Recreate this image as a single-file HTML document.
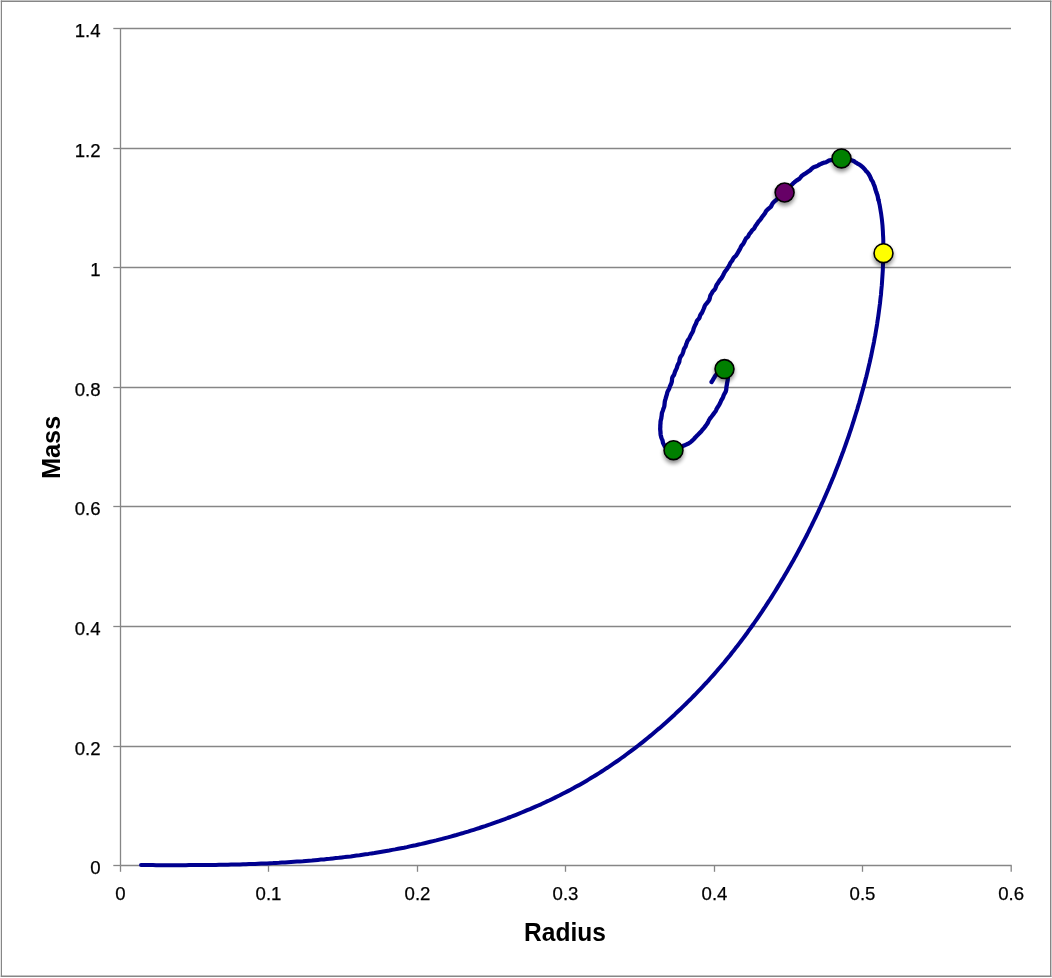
<!DOCTYPE html>
<html lang="en">
<head>
<meta charset="utf-8">
<title>Mass vs Radius</title>
<style>
html,body{margin:0;padding:0;background:#fff;}
body{width:1052px;height:978px;overflow:hidden;font-family:"Liberation Sans",sans-serif;}
svg{display:block;}
.tick{font-family:"Liberation Sans",sans-serif;font-size:18.6px;fill:#000;stroke:#000;stroke-width:0.25px;}
.title{font-family:"Liberation Sans",sans-serif;font-size:26.2px;font-weight:bold;fill:#000;}
</style>
</head>
<body>
<svg width="1052" height="978" viewBox="0 0 1052 978">
<defs>
<filter id="sh" x="-50%" y="-50%" width="200%" height="200%">
<feGaussianBlur in="SourceAlpha" stdDeviation="2.3"/>
<feOffset dx="0.3" dy="2.5" result="b"/>
<feComponentTransfer><feFuncA type="linear" slope="0.46"/></feComponentTransfer>
<feMerge><feMergeNode/><feMergeNode in="SourceGraphic"/></feMerge>
</filter>
</defs>
<rect x="0" y="0" width="1052" height="978" fill="#fff"/>
<g stroke="#868686" fill="none">
<line x1="1.4" y1="0.6" x2="1.4" y2="977" stroke-width="1.2"/>
<line x1="0.8" y1="1.3" x2="1051.4" y2="1.3" stroke-width="1.4"/>
<line x1="1050.7" y1="0.6" x2="1050.7" y2="977" stroke-width="1.4"/>
<line x1="0.8" y1="976.3" x2="1051.4" y2="976.3" stroke-width="1.4"/>
</g>
<g stroke="#868686" stroke-width="1.3" fill="none">
<line x1="120.5" y1="746.5" x2="1011" y2="746.5"/>
<line x1="120.5" y1="626.5" x2="1011" y2="626.5"/>
<line x1="120.5" y1="506.5" x2="1011" y2="506.5"/>
<line x1="120.5" y1="387.5" x2="1011" y2="387.5"/>
<line x1="120.5" y1="267.5" x2="1011" y2="267.5"/>
<line x1="120.5" y1="148.5" x2="1011" y2="148.5"/>
<line x1="120.5" y1="28.5" x2="1011" y2="28.5"/>
<line x1="120.5" y1="28" x2="120.5" y2="865.5"/>
<line x1="120.5" y1="865.5" x2="1011.7" y2="865.5"/>
<line x1="113.3" y1="865.5" x2="120.5" y2="865.5"/>
<line x1="113.3" y1="746.5" x2="120.5" y2="746.5"/>
<line x1="113.3" y1="626.5" x2="120.5" y2="626.5"/>
<line x1="113.3" y1="506.5" x2="120.5" y2="506.5"/>
<line x1="113.3" y1="387.5" x2="120.5" y2="387.5"/>
<line x1="113.3" y1="267.5" x2="120.5" y2="267.5"/>
<line x1="113.3" y1="148.5" x2="120.5" y2="148.5"/>
<line x1="113.3" y1="28.5" x2="120.5" y2="28.5"/>
<line x1="120.5" y1="865.5" x2="120.5" y2="871.8"/>
<line x1="268.5" y1="865.5" x2="268.5" y2="871.8"/>
<line x1="417.5" y1="865.5" x2="417.5" y2="871.8"/>
<line x1="565.5" y1="865.5" x2="565.5" y2="871.8"/>
<line x1="714.5" y1="865.5" x2="714.5" y2="871.8"/>
<line x1="862.5" y1="865.5" x2="862.5" y2="871.8"/>
<line x1="1011.2" y1="865.5" x2="1011.2" y2="871.8"/>
</g>
<g class="tick" text-anchor="end">
<text x="100.5" y="874.3">0</text>
<text x="100.5" y="755.3">0.2</text>
<text x="100.5" y="635.3">0.4</text>
<text x="100.5" y="515.3">0.6</text>
<text x="100.5" y="396.3">0.8</text>
<text x="100.5" y="276.3">1</text>
<text x="100.5" y="157.3">1.2</text>
<text x="100.5" y="37.3">1.4</text>
</g>
<g class="tick" text-anchor="middle">
<text x="120.5" y="900">0</text>
<text x="268.5" y="900">0.1</text>
<text x="417.5" y="900">0.2</text>
<text x="565.5" y="900">0.3</text>
<text x="714.5" y="900">0.4</text>
<text x="862.5" y="900">0.5</text>
<text x="1011.2" y="900">0.6</text>
</g>
<text class="title" text-anchor="middle" transform="translate(565 940.8) scale(0.9375 1)">Radius</text>
<text class="title" text-anchor="middle" transform="translate(59.9 447.4) rotate(-90) scale(0.968 1)">Mass</text>
<g fill="none" stroke="#00008f" stroke-linecap="round" stroke-linejoin="round">
<path d="M141.0 865.1 L144.0 865.1 L147.0 865.1 L150.0 865.1 L153.0 865.1 L156.0 865.2 L159.0 865.2 L162.0 865.2 L165.0 865.2 L168.0 865.2 L171.0 865.2 L174.0 865.2 L177.0 865.2 L180.0 865.2 L183.0 865.2 L186.0 865.2 L189.0 865.1 L192.0 865.1 L195.0 865.1 L198.0 865.1 L201.0 865.1 L204.0 865.0 L207.0 865.0 L210.0 865.0 L213.0 864.9 L216.0 864.9 L219.0 864.8 L222.0 864.8 L225.0 864.7 L228.0 864.7 L231.0 864.6 L234.0 864.5 L237.0 864.4 L240.0 864.4 L243.0 864.3 L246.0 864.2 L249.0 864.1 L252.0 864.0 L255.0 863.9 L258.0 863.7 L261.0 863.6 L264.0 863.5 L267.0 863.4 L270.0 863.2 L273.0 863.1 L276.0 862.9 L279.0 862.8 L282.0 862.6 L285.0 862.4 L288.0 862.2 L291.0 862.0 L294.0 861.8 L297.0 861.6 L299.9 861.4 L302.9 861.2 L305.9 860.9 L308.9 860.7 L311.9 860.5 L314.9 860.2 L317.9 859.9 L320.9 859.6 L323.9 859.4 L326.8 859.1 L329.8 858.8 L332.8 858.4 L335.8 858.1 L338.8 857.8 L341.8 857.4 L344.7 857.1 L347.7 856.7 L350.7 856.4 L353.7 856.0 L356.6 855.6 L359.6 855.2 L362.6 854.7 L365.5 854.3 L368.5 853.9 L371.5 853.4 L374.4 853.0 L377.4 852.5 L380.4 852.0 L383.3 851.5 L386.3 851.0 L389.2 850.5 L392.2 849.9 L395.1 849.4 L398.1 848.8 L401.0 848.2 L404.0 847.7 L406.9 847.1 L409.8 846.4 L412.8 845.8 L415.7 845.2 L418.6 844.5 L421.6 843.9 L424.5 843.2 L427.4 842.5 L430.3 841.8 L433.2 841.1 L436.2 840.4 L439.1 839.6 L442.0 838.9 L444.9 838.1 L447.8 837.4 L450.7 836.6 L453.6 835.8 L456.4 835.0 L459.3 834.1 L462.2 833.3 L465.1 832.4 L468.0 831.6 L470.8 830.7 L473.7 829.8 L476.5 828.9 L479.4 828.0 L482.2 827.0 L485.1 826.1 L487.9 825.1 L490.8 824.2 L493.6 823.2 L496.4 822.2 L499.3 821.2 L502.1 820.1 L504.9 819.1 L507.7 818.0 L510.5 817.0 L513.3 815.9 L516.1 814.8 L518.9 813.7 L521.7 812.5 L524.4 811.4 L527.2 810.2 L530.0 809.1 L532.7 807.9 L535.5 806.7 L538.2 805.5 L541.0 804.3 L543.7 803.0 L546.4 801.7 L549.1 800.5 L551.8 799.2 L554.5 797.9 L557.2 796.5 L559.9 795.2 L562.6 793.8 L565.2 792.5 L567.9 791.1 L570.6 789.7 L573.2 788.3 L575.8 786.8 L578.5 785.4 L581.1 783.9 L583.7 782.4 L586.3 780.9 L588.8 779.4 L591.4 777.8 L594.0 776.3 L596.5 774.7 L599.1 773.1 L601.6 771.5 L604.1 769.9 L606.6 768.2 L609.1 766.6 L611.6 764.9 L614.1 763.2 L616.6 761.5 L619.0 759.8 L621.5 758.0 L623.9 756.3 L626.3 754.5 L628.8 752.7 L631.2 750.9 L633.6 749.1 L635.9 747.3 L638.3 745.5 L640.7 743.6 L643.0 741.8 L645.4 739.9 L647.7 738.0 L650.0 736.1 L652.3 734.2 L654.6 732.2 L656.9 730.3 L659.2 728.4 L661.5 726.4 L663.7 724.4 L666.0 722.4 L668.2 720.4 L670.4 718.4 L672.6 716.4 L674.8 714.4 L677.0 712.3 L679.2 710.2 L681.4 708.2 L683.5 706.1 L685.7 704.0 L687.8 701.9 L690.0 699.8 L692.1 697.7 L694.2 695.5 L696.3 693.4 L698.4 691.2 L700.4 689.1 L702.5 686.9 L704.5 684.7 L706.6 682.5 L708.6 680.3 L710.6 678.0 L712.6 675.8 L714.6 673.6 L716.6 671.3 L718.5 669.0 L720.5 666.7 L722.4 664.5 L724.4 662.2 L726.3 659.8 L728.2 657.5 L730.1 655.2 L731.9 652.8 L733.8 650.5 L735.6 648.1 L737.5 645.8 L739.3 643.4 L741.1 641.0 L742.9 638.6 L744.7 636.2 L746.5 633.8 L748.2 631.3 L750.0 628.9 L751.7 626.5 L753.5 624.0 L755.2 621.5 L756.9 619.1 L758.6 616.6 L760.3 614.1 L762.0 611.6 L763.6 609.1 L765.3 606.6 L766.9 604.1 L768.5 601.6 L770.2 599.1 L771.8 596.6 L773.4 594.0 L775.0 591.5 L776.6 588.9 L778.1 586.4 L779.7 583.8 L781.2 581.2 L782.8 578.7 L784.3 576.1 L785.8 573.5 L787.3 570.9 L788.8 568.3 L790.3 565.7 L791.8 563.1 L793.3 560.5 L794.7 557.9 L796.2 555.2 L797.6 552.6 L799.0 550.0 L800.4 547.3 L801.8 544.7 L803.2 542.0 L804.6 539.3 L806.0 536.7 L807.4 534.0 L808.7 531.3 L810.0 528.6 L811.4 525.9 L812.7 523.2 L814.0 520.5 L815.3 517.8 L816.6 515.1 L817.9 512.4 L819.1 509.7 L820.4 507.0 L821.6 504.2 L822.9 501.5 L824.1 498.8 L825.3 496.0 L826.5 493.3 L827.7 490.5 L828.9 487.8 L830.0 485.0 L831.2 482.2 L832.3 479.5 L833.5 476.7 L834.6 473.9 L835.7 471.1 L836.8 468.3 L837.9 465.5 L839.0 462.7 L840.0 459.9 L841.1 457.1 L842.1 454.3 L843.2 451.5 L844.2 448.7 L845.2 445.8 L846.2 443.0 L847.2 440.2 L848.2 437.3 L849.2 434.5 L850.1 431.7 L851.1 428.8 L852.0 426.0 L852.9 423.1 L853.8 420.3 L854.7 417.4 L855.6 414.5 L856.5 411.7 L857.4 408.8 L858.2 405.9 L859.1 403.0 L859.9 400.2 L860.7 397.3 L861.5 394.4 L862.3 391.5 L863.1 388.6 L863.9 385.7 L864.7 382.8 L865.4 379.9 L866.2 377.0 L866.9 374.1 L867.6 371.2 L868.3 368.2 L869.0 365.3 L869.7 362.4 L870.3 359.5 L871.0 356.5 L871.6 353.6 L872.2 350.7 L872.8 347.7 L873.4 344.8 L874.0 341.8 L874.5 338.9 L875.1 335.9 L875.6 333.0 L876.1 330.0 L876.6 327.1 L877.1 324.1 L877.5 321.2 L878.0 318.2 L878.4 315.2 L878.8 312.2 L879.2 309.3 L879.6 306.3 L880.0 303.3 L880.3 300.3 L880.6 297.4 L881.0 294.4 L881.2 291.4 L881.5 288.4 L881.8 285.4 L882.0 282.4 L882.2 279.4 L882.4 276.4 L882.6 273.4 L882.8 270.4 L882.9 267.4 L883.0 264.5 L883.1 261.5 L883.2 258.5 L883.3 255.5 L883.3 252.5 L883.3 249.5 L883.3 246.5 L883.3 243.5 L883.3 240.5 L883.2 237.5 L883.0 234.5 L882.9 231.5 L882.7 228.5 L882.5 225.5 L882.2 222.5 L881.9 219.5 L881.5 216.5 L881.1 213.6 L880.6 210.6 L880.1 207.6 L879.6 204.7 L878.9 201.8 L878.5 199.8" stroke-width="4"/>
<path d="M878.5 199.8 L878.2 198.8 L878.0 197.9 L877.8 196.9 L877.6 195.9 L877.3 195.0 L877.0 194.0 L876.7 193.1 L876.3 192.1 L876.0 191.2 L875.7 190.2 L875.4 189.3 L875.1 188.3 L874.9 187.3 L874.6 186.4 L874.2 185.4 L873.8 184.5 L873.5 183.6 L873.1 182.6 L872.7 181.7 L872.2 180.9 L871.6 180.0 L871.1 179.2 L870.8 178.2 L870.4 177.3 L870.0 176.4 L869.5 175.5 L869.0 174.7 L868.5 173.8 L867.9 173.0 L867.3 172.2 L866.5 171.5 L865.9 170.8 L865.3 170.0 L864.7 169.2 L864.0 168.5 L863.3 167.8 L862.6 167.1 L861.8 166.4 L861.1 165.8 L860.3 165.2 L859.5 164.6 L858.6 164.1 L857.7 163.7 L856.9 163.2 L856.0 162.7 L855.2 162.1 L854.4 161.5 L853.5 161.0 L852.6 160.6 L851.6 160.3 L850.7 159.9 L849.7 159.5 L848.7 159.3 L847.7 159.2 L846.7 159.2 L845.7 159.2 L844.7 159.2 L843.7 159.2 L842.7 159.2 L841.7 159.2 L840.7 159.4 L839.7 159.4 L838.7 159.4 L837.7 159.2 L836.7 159.1 L835.7 159.2 L834.7 159.4 L833.7 159.7 L832.8 159.9 L831.8 160.1 L830.8 160.2 L829.8 160.3 L828.8 160.6 L827.9 161.1 L827.1 161.7 L826.2 162.2 L825.2 162.5 L824.3 162.7 L823.3 162.9 L822.3 163.3 L821.4 163.7 L820.5 164.1 L819.6 164.5 L818.7 165.0 L817.9 165.6 L817.0 166.0 L816.0 166.4 L815.1 166.7 L814.1 167.1 L813.2 167.5 L812.4 168.1 L811.6 168.8 L810.9 169.5 L810.2 170.3 L809.4 170.9 L808.5 171.4 L807.7 171.9 L806.9 172.5 L806.1 173.1 L805.2 173.6 L804.3 174.1 L803.5 174.6 L802.7 175.2 L801.9 175.8 L801.2 176.5 L800.6 177.4 L799.9 178.2 L799.2 178.9 L798.4 179.4 L797.5 180.0 L796.6 180.5 L795.8 181.0 L795.1 181.7 L794.3 182.4 L793.5 183.0 L792.8 183.7 L792.1 184.4 L791.4 185.1 L790.6 185.7 L789.8 186.4 L789.1 187.1 L788.4 187.8 L787.7 188.5 L786.9 189.1 L786.2 189.8 L785.4 190.4 L784.6 191.1 L783.8 191.7 L783.0 192.3 L782.3 193.0 L781.7 193.8 L781.1 194.6 L780.4 195.3 L779.6 196.0 L778.9 196.6 L778.2 197.4 L777.6 198.2 L777.1 199.1 L776.4 199.8 L775.6 200.5 L774.8 201.1 L774.1 201.8 L773.4 202.5 L772.7 203.2 L772.2 204.1 L771.8 205.0 L771.3 206.0 L770.8 206.8 L770.0 207.5 L769.2 208.1 L768.4 208.8 L767.7 209.5 L766.9 210.1 L766.3 210.9 L765.7 211.8 L765.3 212.7 L764.8 213.5 L764.2 214.3 L763.6 215.1 L762.9 215.9 L762.3 216.7 L761.7 217.5 L761.2 218.4 L760.6 219.2 L760.0 220.0 L759.3 220.7 L758.6 221.4 L758.1 222.2 L757.5 223.1 L757.0 223.9 L756.4 224.7 L755.8 225.5 L755.2 226.4 L754.8 227.3 L754.3 228.2 L753.7 229.0 L752.9 229.6 L752.1 230.3 L751.6 231.1 L751.1 232.0 L750.5 232.8 L749.8 233.5 L749.2 234.3 L748.7 235.2 L748.3 236.2 L747.7 237.0 L746.9 237.7 L746.1 238.3 L745.6 239.1 L745.1 240.1 L744.7 241.0 L744.3 241.9 L743.8 242.8 L743.3 243.7 L742.7 244.5 L742.1 245.2 L741.4 246.0 L740.9 246.9 L740.5 247.8 L740.1 248.7 L739.6 249.6 L739.1 250.5 L738.6 251.3 L738.1 252.2 L737.6 253.1 L737.1 253.9 L736.6 254.8 L736.0 255.6 L735.3 256.4 L734.5 257.0 L733.8 257.7 L733.2 258.6 L732.8 259.5 L732.3 260.4 L731.7 261.2 L731.1 262.0 L730.5 262.8 L730.0 263.6 L729.6 264.6 L729.2 265.5 L728.7 266.4 L728.1 267.2 L727.6 268.0 L727.1 268.9 L726.5 269.7 L725.9 270.5 L725.3 271.3 L724.7 272.1 L724.2 273.0 L723.8 273.9 L723.4 274.8 L722.9 275.7 L722.4 276.6 L721.9 277.5 L721.4 278.3 L720.8 279.1 L720.1 279.8 L719.5 280.6 L719.0 281.5 L718.4 282.3 L717.9 283.2 L717.3 284.0 L716.7 284.8 L716.3 285.7 L716.0 286.7 L715.6 287.6 L715.2 288.6 L714.7 289.4 L714.1 290.2 L713.3 290.9 L712.6 291.7 L712.1 292.6 L711.7 293.5 L711.1 294.3 L710.6 295.1 L710.2 296.1 L710.0 297.1 L709.8 298.1 L709.5 299.1 L709.1 300.1 L708.6 300.9 L708.0 301.7 L707.4 302.5 L706.7 303.3 L706.0 304.1 L705.4 304.8 L704.9 305.7 L704.5 306.6 L704.2 307.6 L703.8 308.5 L703.4 309.5 L703.0 310.4 L702.6 311.3 L702.2 312.2 L701.7 313.1 L701.1 313.9 L700.5 314.7 L700.1 315.6 L699.8 316.6 L699.5 317.6 L699.0 318.5 L698.4 319.2 L697.6 320.0 L697.0 320.8 L696.6 321.7 L696.4 322.7 L696.0 323.6 L695.5 324.5 L695.0 325.4 L694.6 326.3 L694.2 327.2 L693.8 328.2 L693.5 329.1 L693.3 330.1 L693.0 331.1 L692.6 332.0 L692.1 332.9 L691.6 333.7 L691.1 334.6 L690.6 335.5 L690.2 336.4 L689.8 337.3 L689.4 338.2 L688.8 339.1 L688.2 339.9 L687.6 340.7 L687.2 341.6 L686.9 342.6 L686.5 343.5 L686.2 344.5 L685.9 345.4 L685.6 346.4 L685.1 347.3 L684.5 348.1 L684.0 349.0 L683.7 349.9 L683.5 350.9 L683.2 351.9 L682.9 352.8 L682.5 353.8 L682.1 354.7 L681.5 355.5 L680.9 356.4 L680.4 357.2 L680.0 358.1 L679.7 359.1 L679.5 360.1 L679.4 361.1 L679.2 362.1 L678.8 363.0 L678.3 363.9 L677.8 364.8 L677.4 365.7 L677.2 366.7 L676.9 367.6 L676.5 368.6 L676.1 369.5 L675.7 370.4 L675.2 371.3 L674.9 372.2 L674.6 373.2 L674.3 374.2 L673.9 375.1 L673.3 375.9 L672.7 376.8 L672.3 377.7 L672.1 378.7 L672.0 379.7 L671.9 380.7 L671.8 381.7 L671.5 382.7 L671.2 383.7 L670.8 384.6 L670.3 385.5 L669.9 386.4 L669.6 387.4 L669.3 388.3 L668.9 389.2 L668.4 390.1 L667.9 391.0 L667.5 391.9 L667.2 392.9 L667.0 393.9 L666.8 394.8 L666.4 395.8 L666.2 396.7 L665.9 397.7 L665.6 398.7 L665.3 399.6 L665.0 400.6 L664.8 401.6 L664.7 402.6 L664.6 403.6 L664.5 404.6 L664.4 405.6 L664.2 406.6 L663.9 407.5 L663.5 408.5 L663.2 409.4 L662.9 410.4 L662.6 411.3 L662.2 412.3 L661.9 413.2 L661.8 414.2 L661.7 415.2 L661.6 416.2 L661.4 417.2 L661.3 418.2 L661.1 419.2 L660.8 420.2 L660.6 421.1 L660.5 422.2 L660.5 423.2 L660.4 424.2 L660.3 425.2 L660.3 426.2 L660.3 427.2 L660.2 428.2 L660.2 429.2 L660.3 430.2 L660.4 431.2 L660.5 432.2 L660.5 433.2 L660.6 434.2 L660.7 435.1 L661.0 436.1 L661.2 437.1 L661.5 438.0 L661.9 439.0 L662.3 439.9 L662.6 440.8 L662.8 441.8 L663.0 442.8 L663.4 443.7 L663.9 444.6 L664.3 445.5 L664.8 446.4 L665.3 447.2 L666.1 448.0 L666.9 448.5 L667.8 449.0 L668.7 449.5 L669.6 450.0 L670.5 450.4 L671.6 450.5 L672.6 450.5 L673.6 450.5 L674.6 450.5 L675.6 450.4 L676.5 450.0 L677.4 449.5 L678.4 449.2 L679.3 448.8 L680.2 448.4 L681.0 447.8 L681.8 447.1 L682.5 446.4 L683.3 445.8 L684.2 445.4 L685.2 445.0 L686.1 444.6 L687.0 444.2 L687.9 443.8 L688.8 443.3 L689.7 442.7 L690.5 442.2 L691.3 441.5 L692.0 440.8 L692.8 440.1 L693.5 439.4 L694.2 438.7 L694.8 438.0 L695.5 437.2 L696.2 436.5 L696.9 435.8 L697.6 435.1 L698.3 434.4 L699.0 433.6 L699.7 433.0 L700.4 432.3 L701.1 431.5 L701.7 430.8 L702.3 430.0 L703.0 429.2 L703.7 428.5 L704.3 427.7 L704.9 426.9 L705.5 426.1 L706.1 425.3 L706.7 424.5 L707.2 423.7 L707.8 422.8 L708.2 421.9 L708.6 421.0 L709.0 420.0 L709.6 419.2 L710.1 418.4 L710.7 417.6 L711.4 416.8 L712.0 416.0 L712.6 415.2 L713.2 414.4 L713.8 413.6 L714.4 412.8 L715.0 412.0 L715.6 411.2 L716.1 410.3 L716.4 409.4 L716.9 408.5 L717.4 407.6 L718.0 406.8 L718.5 405.9 L719.0 405.1 L719.5 404.2 L720.0 403.3 L720.4 402.4 L720.8 401.5 L721.1 400.6 L721.6 399.7 L722.2 398.9 L722.7 398.0 L723.1 397.1 L723.4 396.1 L723.7 395.2 L724.2 394.3 L724.7 393.4 L725.2 392.5 L725.7 391.6 L726.0 390.6 L726.2 389.7 L726.3 388.6 L726.4 387.6 L726.5 386.6 L726.7 385.6 L726.9 384.7 L727.0 383.7 L727.2 382.7 L727.4 381.7 L727.6 380.7 L727.7 379.7 L727.8 378.8 L727.9 377.8 L727.9 376.8 L727.8 375.8 L727.7 374.8 L727.5 373.8 L727.2 372.9 L726.7 372.1 L726.0 371.4 L725.3 370.8 L724.5 370.2 L723.5 369.9 L722.5 369.8 L721.5 369.9 L720.5 370.3 L719.7 370.9 L719.0 371.6 L718.4 372.4 L717.8 373.2 L717.1 373.9 L716.4 374.6 L715.7 375.3 L715.1 376.1 L714.6 377.0 L714.1 377.8 L713.6 378.7 L713.1 379.5 L712.6 380.4 L712.1 381.3 L711.5 382.1 L711.4 382.1" stroke-width="4.3"/>
</g>
<g stroke="#000" stroke-width="1.6" filter="url(#sh)">
<circle cx="883.5" cy="253.2" r="9.45" fill="#ffff00"/>
<circle cx="841.5" cy="158.4" r="9.45" fill="#008000"/>
<circle cx="784.6" cy="192.5" r="9.45" fill="#660066"/>
<circle cx="724.5" cy="369.1" r="9.45" fill="#008000"/>
<circle cx="673.5" cy="450.2" r="9.45" fill="#008000"/>
</g>
</svg>
</body>
</html>
